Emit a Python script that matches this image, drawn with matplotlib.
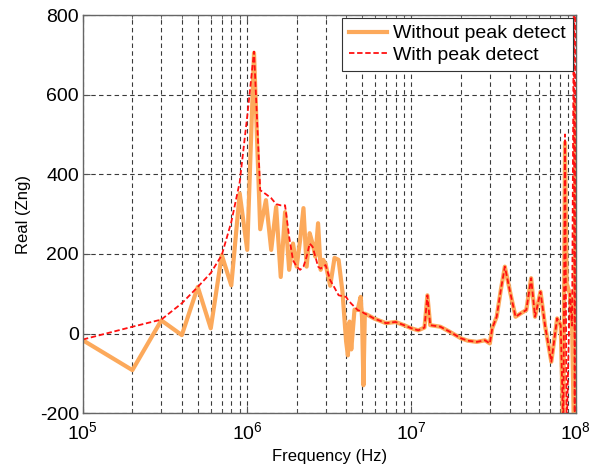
import numpy as np
import matplotlib
matplotlib.use("Agg")
import matplotlib.pyplot as plt
from matplotlib.ticker import LogLocator, FixedLocator

plt.rcParams['font.family'] = ['Liberation Sans', 'DejaVu Sans']
plt.rcParams['axes.unicode_minus'] = False

# frequency samples (MHz)
freq_mhz = [0.1, 0.2, 0.3, 0.4, 0.5, 0.6, 0.7, 0.8, 0.9, 1.0,
            1.1, 1.2, 1.3, 1.4, 1.5, 1.6, 1.7, 1.8, 1.9, 2.0,
            2.1, 2.2, 2.3, 2.4, 2.5, 2.6, 2.7, 2.8, 2.9, 3.0,
            3.2, 3.4, 3.6, 3.8, 4.0, 4.1, 4.2, 4.3, 4.5, 4.7,
            4.9, 5.0, 5.1, 5.2, 5.5, 5.9, 7, 8, 9, 10,
            11, 12, 12.5, 13, 15, 17, 20, 22, 25, 28,
            30, 31, 33, 35, 37, 40, 43, 46, 50, 53.5,
            56.5, 61, 65, 71, 77, 81, 84, 86, 88, 92,
            95, 97.5, 98.5, 100]

without_peak = [-17, -92, 33, -4, 117, 13, 197, 121, 352, 210,
                705, 262, 335, 210, 318, 142, 305, 160, 226, 168,
                235, 315, 168, 252, 226, 193, 277, 160, 185, 175,
                120, 190, 185, 105, -20, -55, 30, -40, 60, 59,
                92, 40, -130, 50, 45, 38, 26, 29, 21, 13,
                8, 15, 96, 21, 17, 5, -12, -18, -21, -17,
                -25, 13, 42, 110, 168, 101, 42, 50, 59, 139,
                42, 105, 20, -71, 38, 21, -250, 480, 126, 100,
                20, -250, 120, 580]

with_peak = [-15, 17, 35, 76, 117, 152, 197, 280, 380, 545,
             708, 360, 350, 340, 325, 322, 322, 243, 184, 168,
             160, 168, 193, 226, 218, 193, 168, 163, 168, 172,
             134, 115, 96, 94, 92, 85, 80, 75, 67, 59,
             56, 55, 52, 50, 45, 38, 26, 29, 21, 13,
             8, 15, 96, 21, 17, 5, -12, -18, -21, -17,
             -25, 13, 42, 110, 168, 101, 42, 50, 59, 139,
             42, 105, 20, -71, 38, 21, -250, 500, -250, 100,
             20, 900, -250, 900]

freq = np.array(freq_mhz) * 1e6

fig = plt.figure(figsize=(6.01, 4.70), dpi=100)
ax = fig.add_axes([0.138, 0.121, 0.820, 0.847])

ax.plot(freq, without_peak, color='#FCA95B', lw=3, label='Without peak detect')
ax.plot(freq, with_peak, color='#FF1010', lw=1.3, ls=(0, (3, 1.5)), label='With peak detect')

ax.set_xscale('log')
ax.set_xlim(1e5, 1e8)
ax.set_ylim(-200, 800)
ax.yaxis.set_major_locator(FixedLocator([-200, 0, 200, 400, 600, 800]))
ax.xaxis.set_major_locator(LogLocator(base=10, numticks=10))
ax.xaxis.set_minor_locator(LogLocator(base=10, subs=np.arange(2, 10), numticks=20))

grid_kw = dict(color='#3a3a3a', ls=(0, (4, 3)), lw=0.8)
ax.grid(True, which='major', axis='both', **grid_kw)
ax.grid(True, which='minor', axis='x', **grid_kw)

ax.tick_params(which='both', direction='in', top=True, right=True,
               labelsize=14, color='#555555', pad=3)
ax.tick_params(axis='x', which='both', pad=6)
ax.tick_params(which='major', length=5)
ax.tick_params(which='minor', length=3)
for sp in ax.spines.values():
    sp.set_color('#666666')
    sp.set_linewidth(1.0)

ax.set_xlabel('Frequency (Hz)', fontsize=12, labelpad=4)
ax.set_ylabel('Real (Zng)', fontsize=12, labelpad=6)

leg = ax.legend(loc='upper right', fontsize=14, fancybox=False, framealpha=1,
                edgecolor='#333333', borderaxespad=0.15, handlelength=2.0,
                handletextpad=0.3, labelspacing=0.2, borderpad=0.35)
leg.get_frame().set_linewidth(0.8)

fig.savefig('out.png', dpi=100)
